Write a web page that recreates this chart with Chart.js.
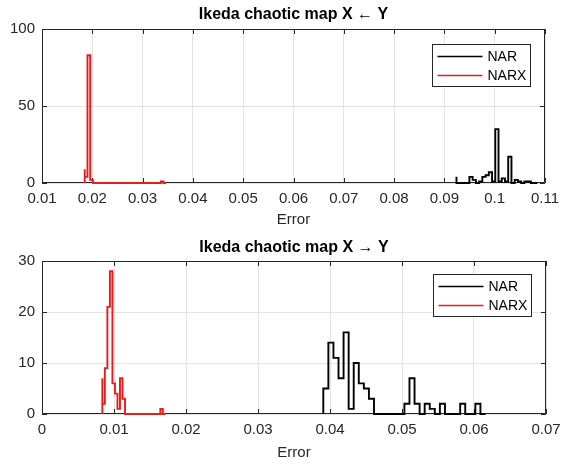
<!DOCTYPE html>
<html>
<head>
<meta charset="utf-8">
<script src="https://cdn.jsdelivr.net/npm/chart.js@4/dist/chart.umd.min.js"></script>
<style>
  body { margin: 0; background: #fff; }
  .panel { position: absolute; left: 0; width: 562px; height: 233px; }
</style>
</head>
<body>
<div class="panel" style="top:0"><canvas id="chartYX"></canvas></div>
<div class="panel" style="top:233px"><canvas id="chartXY"></canvas></div>
<script>
// Error histograms, each one is: first bin edge, bin width, counts per bin

// X <- Y
const yxNarStart = 0.0924, yxNarWidth = 0.000643;
const yxNarCounts = [4, 0, 0, 0, 0, 4, 2, 0, 1, 4, 5, 7, 1, 35, 1, 3, 1, 17, 0, 2, 1, 0, 1, 1, 0];
const yxNarxStart = 0.0185, yxNarxWidth = 0.00054;
const yxNarxCounts = [9, 4, 83, 2, 0, 0, 0, 0, 0, 0, 0, 0, 0, 0, 0,
                      0, 0, 0, 0, 0, 0, 0, 0, 0, 0, 0, 0, 0, 0, 1];

// X -> Y
const xyNarStart = 0.03907, xyNarWidth = 0.000704;
const xyNarCounts = [2, 5, 14, 11, 7, 16, 1, 10, 6, 5, 3, 0, 0, 0, 0, 0,
                     0, 2, 7, 2, 0, 2, 1, 0, 2, 0, 0, 0, 2, 0, 0, 2];
const xyNarxStart = 0.00838, xyNarxWidth = 0.00035;
const xyNarxCounts = [7, 2, 9, 21, 28, 6, 4, 1, 7, 3, 0, 0, 0, 0, 0,
                      0, 0, 0, 0, 0, 0, 0, 0, 0, 1];

// axis ranges and tick labels
const yxXTicks = ['0.01', '0.02', '0.03', '0.04', '0.05', '0.06', '0.07', '0.08', '0.09', '0.1', '0.11'];
const yxYTicks = ['0', '50', '100'];
const xyXTicks = ['0', '0.01', '0.02', '0.03', '0.04', '0.05', '0.06', '0.07'];
const xyYTicks = ['0', '10', '20', '30'];

const seriesNames = ['NAR', 'NARX'];
const seriesColors = ['#000000', '#e81c1c'];

const fontFamily = "'Liberation Sans', Arial, Helvetica, sans-serif";
Chart.defaults.font.family = fontFamily;
Chart.defaults.font.size = 15;
Chart.defaults.color = '#262626';

// turn histogram counts into stair points (outline starts and ends at zero)
function stairs(start, width, counts) {
  const pts = [{x: start, y: 0}];
  counts.forEach((c, i) => pts.push({x: start + i * width, y: c}));
  pts.push({x: start + counts.length * width, y: 0});
  return pts;
}

// box around the plot area with small inward tick marks, title centred over it
const axesBox = {
  id: 'axesBox',
  beforeDatasetsDraw(chart, args, opts) {
    const {ctx, chartArea: a, scales: {x, y}} = chart;
    const t = 5;
    ctx.save();
    ctx.strokeStyle = '#262626';
    ctx.lineWidth = 1;
    ctx.beginPath();
    ctx.rect(a.left + 0.5, a.top + 0.5, a.width - 1, a.height - 1);
    x.ticks.forEach(tk => {
      const px = Math.round(x.getPixelForValue(tk.value)) + 0.5;
      ctx.moveTo(px, a.bottom); ctx.lineTo(px, a.bottom - t);
      ctx.moveTo(px, a.top); ctx.lineTo(px, a.top + t);
    });
    y.ticks.forEach(tk => {
      const py = Math.round(y.getPixelForValue(tk.value)) + 0.5;
      ctx.moveTo(a.left, py); ctx.lineTo(a.left + t, py);
      ctx.moveTo(a.right, py); ctx.lineTo(a.right - t, py);
    });
    ctx.stroke();

    ctx.fillStyle = '#000';
    ctx.font = 'bold 16px ' + fontFamily;
    ctx.textAlign = 'center';
    ctx.textBaseline = 'middle';
    ctx.fillText(opts.title, (a.left + a.right) / 2, opts.titleY);
    ctx.restore();
  }
};

// legend box in the upper right corner of the plot
const cornerLegend = {
  id: 'cornerLegend',
  afterDatasetsDraw(chart, args, opts) {
    const {ctx, chartArea: a} = chart;
    const w = 98, h = 42;
    const left = Math.round(a.right - 113) + 0.5;
    const top = Math.round(a.top + opts.offset) + 0.5;
    ctx.save();
    ctx.fillStyle = '#fff';
    ctx.fillRect(left, top, w, h);
    ctx.strokeStyle = '#262626';
    ctx.lineWidth = 1;
    ctx.strokeRect(left, top, w, h);
    ctx.font = '14px ' + fontFamily;
    ctx.textBaseline = 'middle';
    chart.data.datasets.forEach((ds, i) => {
      const ly = top + 12 + i * 19;
      ctx.strokeStyle = ds.borderColor;
      ctx.lineWidth = 1.5;
      ctx.beginPath();
      ctx.moveTo(left + 5, ly);
      ctx.lineTo(left + 50, ly);
      ctx.stroke();
      ctx.fillStyle = '#000';
      ctx.fillText(ds.label, left + 55, ly + 1);
    });
    ctx.restore();
  }
};

function histChart(id, title, narPts, narxPts, xTicks, yTicks, frame) {
  const xVals = xTicks.map(Number), yVals = yTicks.map(Number);
  return new Chart(document.getElementById(id), {
    type: 'line',
    data: {
      datasets: [narPts, narxPts].map((pts, i) => ({
        label: seriesNames[i],
        data: pts,
        borderColor: seriesColors[i],
        borderWidth: 1.9,
        stepped: 'after',
        pointRadius: 0,
        fill: false,
        clip: 5
      }))
    },
    options: {
      responsive: true,
      maintainAspectRatio: false,
      animation: false,
      layout: { padding: { left: 0, right: frame.right, top: frame.top, bottom: 0 } },
      plugins: {
        legend: { display: false },
        tooltip: { enabled: false },
        title: { display: false },
        axesBox: { title: title, titleY: frame.titleY },
        cornerLegend: { offset: frame.legendTop }
      },
      scales: {
        x: {
          type: 'linear',
          min: xVals[0],
          max: xVals[xVals.length - 1],
          afterFit(s) {
            s.height = frame.xHeight;
            s.paddingLeft = 0;
            s.paddingRight = 0;
          },
          afterBuildTicks(s) { s.ticks = xVals.map(v => ({value: v})); },
          ticks: {
            autoSkip: false, maxRotation: 0, padding: 7,
            callback: (v, i) => xTicks[i]
          },
          grid: { color: '#e3e3e3', drawTicks: false },
          border: { display: false },
          title: { display: true, text: 'Error', padding: { top: 0, bottom: 4 } }
        },
        y: {
          min: yVals[0],
          max: yVals[yVals.length - 1],
          afterFit(s) {
            s.width = 42;
            s.paddingTop = 0;
            s.paddingBottom = 0;
          },
          afterBuildTicks(s) { s.ticks = yVals.map(v => ({value: v})); },
          ticks: { padding: 7, callback: (v, i) => yTicks[i] },
          grid: { color: '#e3e3e3', drawTicks: false },
          border: { display: false }
        }
      }
    },
    plugins: [axesBox, cornerLegend]
  });
}

histChart('chartYX', 'Ikeda chaotic map X \u2190 Y',
  stairs(yxNarStart, yxNarWidth, yxNarCounts),
  stairs(yxNarxStart, yxNarxWidth, yxNarxCounts),
  yxXTicks, yxYTicks,
  { right: 17, top: 29, titleY: 15, xHeight: 50, legendTop: 15 });

histChart('chartXY', 'Ikeda chaotic map X \u2192 Y',
  stairs(xyNarStart, xyNarWidth, xyNarCounts),
  stairs(xyNarxStart, xyNarxWidth, xyNarxCounts),
  xyXTicks, xyYTicks,
  { right: 16, top: 28, titleY: 15, xHeight: 52, legendTop: 13 });
</script>
</body>
</html>
